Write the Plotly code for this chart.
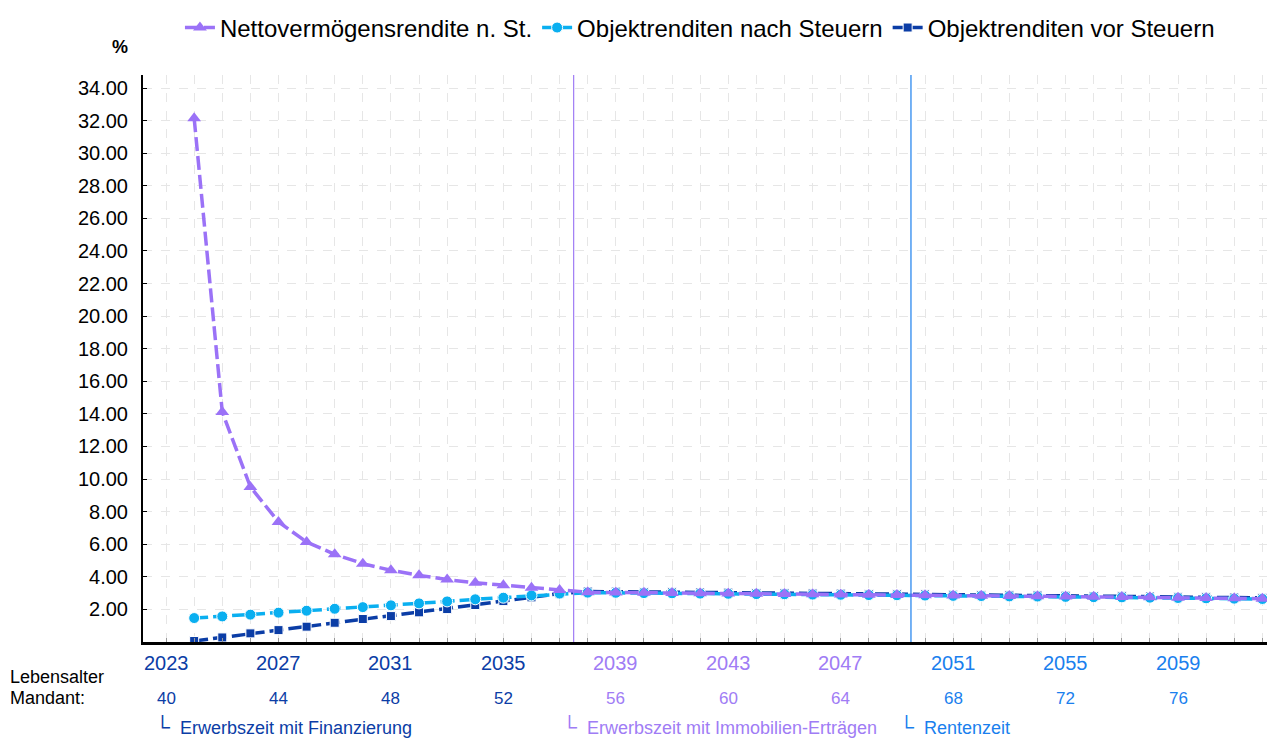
import plotly.graph_objects as go

# Jahre und Renditen (in %)
jahre = list(range(2024, 2063))

netto_rendite = [32.15, 14.12, 9.52, 7.37, 6.14, 5.38, 4.81, 4.40, 4.09, 3.83, 3.64, 3.48, 3.33, 3.19,
                 3.05, 3.04, 3.02, 3.01, 2.99, 2.98, 2.96, 2.95, 2.93, 2.92, 2.90, 2.89, 2.87,
                 2.85, 2.84, 2.82, 2.81, 2.79, 2.77, 2.76, 2.74, 2.72, 2.70, 2.68, 2.66]
nach_steuern = [1.47, 1.57, 1.68, 1.80, 1.92, 2.04, 2.14, 2.25, 2.37, 2.49, 2.62, 2.72, 2.86, 2.97,
                3.03, 3.02, 3.00, 2.99, 2.97, 2.96, 2.94, 2.93, 2.91, 2.90, 2.88, 2.87, 2.85,
                2.83, 2.82, 2.80, 2.79, 2.77, 2.75, 2.74, 2.72, 2.70, 2.68, 2.66, 2.64]
vor_steuern = [0.06, 0.28, 0.53, 0.73, 0.94, 1.18, 1.41, 1.59, 1.82, 2.02, 2.27, 2.51, 2.74, 2.97,
               3.10, 3.09, 3.07, 3.06, 3.04, 3.03, 3.01, 3.00, 2.98, 2.97, 2.95, 2.94, 2.92,
               2.90, 2.89, 2.87, 2.86, 2.84, 2.82, 2.81, 2.79, 2.77, 2.75, 2.73, 2.71]

# Beschriftungen der x-Achse
label_jahre = [2023, 2027, 2031, 2035, 2039, 2043, 2047, 2051, 2055, 2059]
lebensalter = [40, 44, 48, 52, 56, 60, 64, 68, 72, 76]

# Phasen
phasen_start = [2037.5, 2049.5]
phasen_text = ["Erwerbszeit mit Finanzierung", "Erwerbszeit mit Immobilien-Erträgen", "Rentenzeit"]
phasen_label_x = [2022.55, 2037.0, 2049.0]

C_NETTO = "#9B72F7"
C_NACH = "#0AAFF0"
C_VOR = "#0B3DA6"
C_PHASE = ["#0B3DA6", "#A07CF5", "#1A7FEE"]
FONT = "Liberation Sans, Arial, sans-serif"


def phase_farbe(jahr):
    if jahr < phasen_start[0]:
        return C_PHASE[0]
    if jahr < phasen_start[1]:
        return C_PHASE[1]
    return C_PHASE[2]


fig = go.Figure()

fig.add_trace(go.Scatter(
    x=jahre, y=vor_steuern, name="Objektrenditen vor Steuern",
    mode="lines+markers",
    line=dict(color=C_VOR, width=3.5, dash="14px,5px"),
    marker=dict(symbol="square", size=9, color=C_VOR, line=dict(color="white", width=1))
))
fig.add_trace(go.Scatter(
    x=jahre, y=nach_steuern, name="Objektrenditen nach Steuern",
    mode="lines+markers",
    line=dict(color=C_NACH, width=3.5, dash="14px,5px"),
    marker=dict(symbol="circle", size=11, color=C_NACH, line=dict(color="white", width=1))
))
fig.add_trace(go.Scatter(
    x=jahre, y=netto_rendite, name="Nettovermögensrendite n. St.",
    mode="lines+markers",
    line=dict(color=C_NETTO, width=3.5, dash="14px,5px"),
    marker=dict(symbol="triangle-up", size=12, color=C_NETTO)
))

# Phasengrenzen
for xs, col in zip(phasen_start, [C_PHASE[1], C_PHASE[2]]):
    fig.add_shape(type="line", xref="x", yref="paper", x0=xs, x1=xs, y0=0, y1=1,
                  line=dict(color=col, width=1.2))

# Jahres- und Altersbeschriftung
for j, a in zip(label_jahre, lebensalter):
    col = phase_farbe(j)
    fig.add_annotation(x=j, y=-0.037, xref="x", yref="paper", text=str(j), showarrow=False,
                       font=dict(size=20, color=col, family=FONT), yanchor="middle")
    fig.add_annotation(x=j, y=-0.099, xref="x", yref="paper", text=str(a), showarrow=False,
                       font=dict(size=17, color=col, family=FONT), yanchor="middle")

for xl, txt, col in zip(phasen_label_x, phasen_text, C_PHASE):
    fig.add_annotation(x=xl, y=-0.149, xref="x", yref="paper",
                       text='<span style="font-size:21px">└</span>  ' + txt, showarrow=False,
                       xanchor="left", yanchor="middle",
                       font=dict(size=18, color=col, family=FONT))

fig.add_annotation(x=-0.1193, y=-0.0617, xref="paper", yref="paper", text="Lebensalter",
                   showarrow=False, xanchor="left", yanchor="middle",
                   font=dict(size=18, color="black", family=FONT))
fig.add_annotation(x=-0.1193, y=-0.0988, xref="paper", yref="paper", text="Mandant:",
                   showarrow=False, xanchor="left", yanchor="middle",
                   font=dict(size=18, color="black", family=FONT))
fig.add_annotation(x=-0.0203, y=1.049, xref="paper", yref="paper", text="<b>%</b>",
                   showarrow=False, xanchor="center", yanchor="middle",
                   font=dict(size=18, color="black", family=FONT))

# Seite hat 8px Rand, daher Ränder entsprechend verschoben
fig.update_layout(
    width=1275, height=738,
    margin=dict(l=135, r=8, t=67, b=104),
    plot_bgcolor="white", paper_bgcolor="white",
    font=dict(family=FONT, size=18, color="black"),
    legend=dict(orientation="h", x=0.492, xanchor="center", xref="paper",
                y=0.973, yref="container", yanchor="middle",
                traceorder="reversed", font=dict(size=24), itemwidth=30),
    xaxis=dict(range=[2022.18, 2062.45], tick0=2023, dtick=1, showticklabels=False,
               showgrid=True, gridcolor="#e6e6e6", griddash="dash", gridwidth=1,
               showline=True, linecolor="black", linewidth=3,
               ticks="inside", ticklen=4, tickcolor="#999", zeroline=False),
    yaxis=dict(range=[0, 34.8], tickvals=list(range(2, 35, 2)),
               ticktext=["%.2f" % v for v in range(2, 35, 2)],
               showgrid=True, gridcolor="#e6e6e6", griddash="dash", gridwidth=1,
               showline=True, linecolor="black", linewidth=2,
               ticks="inside", ticklen=4, tickcolor="black", zeroline=False,
               ticklabelstandoff=9, tickfont=dict(size=20))
)

fig.write_html("out.html")
